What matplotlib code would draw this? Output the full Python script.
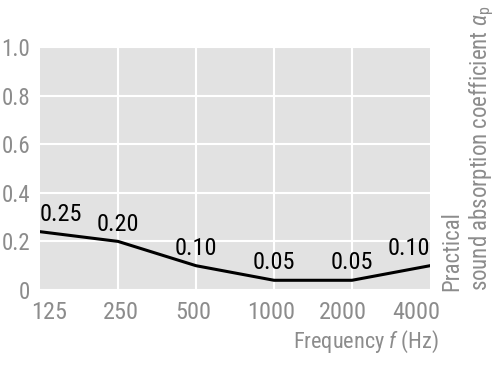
import matplotlib
matplotlib.use("Agg")
import matplotlib.pyplot as plt

freqs = ["125", "250", "500", "1000", "2000", "4000"]
line_values = [0.24, 0.20, 0.10, 0.04, 0.04, 0.10]
value_labels = ["0.25", "0.20", "0.10", "0.05", "0.05", "0.10"]
y_ticks = [0, 0.2, 0.4, 0.6, 0.8, 1.0]
y_tick_labels = ["0", "0.2", "0.4", "0.6", "0.8", "1.0"]
# tick label positions (slightly inset relative to gridlines, as in the reference)
x_label_pos = [0.12, 1.04, 1.96, 2.96, 3.88, 4.82]

plt.rcParams["font.family"] = ["Roboto Condensed", "DejaVu Sans"]
plt.rcParams["mathtext.fontset"] = "custom"
plt.rcParams["mathtext.rm"] = "Roboto Condensed"
plt.rcParams["mathtext.it"] = "Roboto Condensed:italic"
plt.rcParams["mathtext.bf"] = "Roboto Condensed:bold"
GRAY_TXT = "#8c8c8c"

fig = plt.figure(figsize=(5, 3.75), dpi=100)
ax = fig.add_axes([40/500, (375-290)/375, 390/500, 243/375])
ax.set_facecolor("#e2e2e2")
x = list(range(len(freqs)))
ax.plot(x, line_values, color="black", lw=2.2, solid_joinstyle="round", zorder=3)
ax.set_xlim(0, 5)
ax.set_ylim(0, 1.0)

ax.set_xticks(x_label_pos)
ax.set_xticklabels(freqs)
ax.set_xticks([1, 2, 3, 4], minor=True)
ax.set_yticks(y_ticks)
ax.set_yticklabels(y_tick_labels)
ax.tick_params(axis="both", which="both", length=0, labelcolor=GRAY_TXT)
ax.tick_params(axis="x", pad=8, labelsize=17.5)
ax.tick_params(axis="y", pad=7, labelsize=16.5)
ax.grid(False)
ax.grid(True, which="minor", axis="x", color="white", lw=1.5)
ax.grid(True, which="major", axis="y", color="white", lw=1.5)
ax.set_axisbelow(True)
for s in ax.spines.values():
    s.set_visible(False)

for i, (v, lab) in enumerate(zip(line_values, value_labels)):
    ha = "center"
    if i == 0:
        ha = "left"
    elif i == len(freqs) - 1:
        ha = "right"
    ax.annotate(lab, (i, v), xytext=(0, 12.5), textcoords="offset points",
                ha=ha, va="center", fontsize=17.5, color="black")

fig.text(439/500, 1 - 342/375, "Frequency $\\mathit{f}$ (Hz)", ha="right", va="center",
         fontsize=16, color=GRAY_TXT)
fig.text(440/500, (375-291)/375, "Practical\nsound absorption coefficient $\\alpha_\\mathrm{p}$",
         rotation=90, ha="left", va="bottom", multialignment="left",
         fontsize=16.5, color=GRAY_TXT, linespacing=1.25)

fig.savefig("out.png", dpi=100)
